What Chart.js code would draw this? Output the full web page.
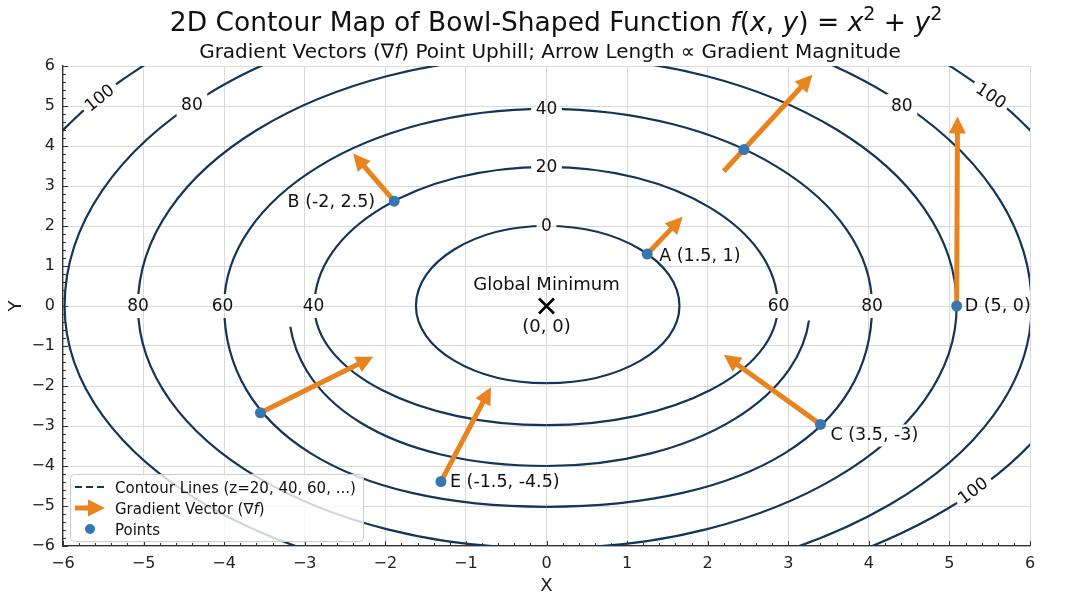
<!DOCTYPE html>
<html>
<head>
<meta charset="utf-8">
<script src="https://cdn.jsdelivr.net/npm/chart.js@4.4.1/dist/chart.umd.min.js"></script>
<style>
  html, body { margin: 0; padding: 0; background: #fff; }
</style>
</head>
<body>
<canvas id="chart" width="1068" height="601"></canvas>
<script>
// contour map: f(x, y) = x^2 + y^2, gradient arrows, labelled points

const FONT = '"DejaVu Sans", sans-serif';
const NAVY = "#12355b";
const ORANGE = "#e8831e";
const BLUE = "#3677b3";
const INK = "#111";

// --- Data ---

const xTickLabels = ["\u22126", "\u22125", "\u22124", "\u22123", "\u22122", "\u22121", "0", "1", "2", "3", "4", "5", "6"];
const yTickLabels = ["\u22126", "\u22125", "\u22124", "\u22123", "\u22122", "\u22121", "0", "1", "2", "3", "4", "5", "6"];

// each contour quarter: where it meets y = 0 (arcX) and x = 0 (arcY)
const arcX = [-1.62, -2.88, -4.0, -5.07, -5.98, -6.97,   // top left
              1.65, 2.87, 4.04, 5.09, 6.02, 6.97,         // top right
              -1.62, -2.88, -3.2, -4.0, -5.07, -5.98,     // bottom left
              1.65, 2.87, 3.27, 4.04, 5.09, 6.02, 6.77];  // bottom right
const arcY = [2.0, 3.48, 4.93, 6.24, 7.45, 8.63,
              2.0, 3.48, 4.93, 6.24, 7.45, 8.63,
              -1.93, -2.98, -4.0, -5.02, -6.06, -7.03,
              -1.93, -2.98, -4.0, -5.02, -6.06, -7.03, -7.48];
// 0.552 = true ellipse, larger = squarer quarter
const arcRound = [0.552, 0.552, 0.552, 0.552, 0.552, 0.552,
                  0.552, 0.552, 0.552, 0.552, 0.552, 0.552,
                  0.552, 0.552, 0.6, 0.62, 0.552, 0.552,
                  0.552, 0.552, 0.56, 0.62, 0.552, 0.552, 0.552];
// open arcs only start below this y
const arcFromY = [null, null, null, null, null, null,
                  null, null, null, null, null, null,
                  null, null, -0.52, null, null, null,
                  null, null, -0.36, null, null, null, null];

const clabelText = ["0", "20", "40", "80", "60", "40", "60", "80", "100", "80", "80", "100", "100"];
const clabelX = [0, 0, 0, -5.07, -4.02, -2.89, 2.88, 4.04, -5.54, -4.40, 4.41, 5.51, 5.30];
const clabelY = [2.0, 3.48, 4.93, 0, 0, 0, 0, 0, 5.21, 5.04, 5.0, 5.26, -4.61];
const clabelAngle = [0, 0, 0, 0, 0, 0, 0, 0, -39, 0, 0, 34, -37];

const pointX = [1.25, -1.89, 2.45, 3.40, 5.09, -1.31, -3.55];
const pointY = [1.30, 2.62, 3.91, -2.96, 0, -4.39, -2.67];
const pointText = ["A (1.5, 1)", "B (-2, 2.5)", "", "C (3.5, -3)", "D (5, 0)", "E (-1.5, -4.5)", ""];

const arrowFromX = [1.25, -1.89, 2.20, 3.40, 5.09, -1.31, -3.55];
const arrowFromY = [1.30, 2.62, 3.37, -2.96, 0, -4.39, -2.67];
const arrowToX = [1.69, -2.40, 3.30, 2.20, 5.10, -0.69, -2.15];
const arrowToY = [2.23, 3.81, 5.78, -1.22, 4.74, -2.03, -1.27];

const minimumX = 0;
const minimumY = 0;

// --- Placement of annotation texts (px offsets from the point) ---

const pointLabelStyle = [
  { dx: 12, dy: 2, align: "left" },
  { dx: -19, dy: 1, align: "right" },
  null,
  { dx: 10, dy: 11, align: "left", knockout: true },
  { dx: 8, dy: 0, align: "left" },
  { dx: 9, dy: 1, align: "left" },
  null,
];

// --- Helpers ---

function toPx(chart, x, y) {
  return [chart.scales.x.getPixelForValue(x), chart.scales.y.getPixelForValue(y)];
}

function richParts(ctx, parts, size) {
  const fonts = { n: `${size}px ${FONT}`, i: `italic ${size}px ${FONT}`, s: `${Math.round(size * 0.7)}px ${FONT}` };
  let w = 0;
  const out = parts.map(([t, s]) => {
    ctx.font = fonts[s];
    const pw = ctx.measureText(t).width;
    w += pw;
    return { t, s, pw, font: fonts[s] };
  });
  return { out, w };
}

function drawRich(ctx, parts, x, baseline, size, align) {
  const { out, w } = richParts(ctx, parts, size);
  let cx = align === "left" ? x : x - w / 2;
  ctx.textAlign = "left";
  ctx.textBaseline = "alphabetic";
  out.forEach(p => {
    ctx.font = p.font;
    ctx.fillText(p.t, cx, p.s === "s" ? baseline - size * 0.42 : baseline);
    cx += p.pw;
  });
}

function boxCorners(cx, cy, w, h, deg) {
  const a = deg * Math.PI / 180, c = Math.cos(a), s = Math.sin(a);
  return [[-w / 2, -h / 2], [w / 2, -h / 2], [w / 2, h / 2], [-w / 2, h / 2]]
    .map(([u, v]) => [cx + u * c - v * s, cy + u * s + v * c]);
}

function drawArrow(ctx, x0, y0, x1, y1) {
  const head = 17, headW = 17, shaft = 5;
  const dx = x1 - x0, dy = y1 - y0, len = Math.hypot(dx, dy);
  const ux = dx / len, uy = dy / len, nx = -uy, ny = ux;
  const bx = x1 - ux * head, by = y1 - uy * head;
  ctx.beginPath();
  ctx.moveTo(x0 + nx * shaft / 2, y0 + ny * shaft / 2);
  ctx.lineTo(bx + nx * shaft / 2, by + ny * shaft / 2);
  ctx.lineTo(bx + nx * headW / 2, by + ny * headW / 2);
  ctx.lineTo(x1, y1);
  ctx.lineTo(bx - nx * headW / 2, by - ny * headW / 2);
  ctx.lineTo(bx - nx * shaft / 2, by - ny * shaft / 2);
  ctx.lineTo(x0 - nx * shaft / 2, y0 - ny * shaft / 2);
  ctx.closePath();
  ctx.fill();
}

// --- Contours ---

function drawContours(chart) {
  const { ctx, chartArea: a } = chart;
  const labelFont = `17px ${FONT}`;
  ctx.save();
  ctx.font = labelFont;

  // clip = plot area minus the boxes of the inline labels
  ctx.beginPath();
  ctx.rect(a.left, a.top, a.right - a.left, a.bottom - a.top);
  clabelText.forEach((t, i) => {
    const [cx, cy] = toPx(chart, clabelX[i], clabelY[i]);
    const w = ctx.measureText(t).width + 9;
    const pts = boxCorners(cx, cy, w, 24, clabelAngle[i]);
    ctx.moveTo(pts[0][0], pts[0][1]);
    pts.slice(1).forEach(p => ctx.lineTo(p[0], p[1]));
    ctx.closePath();
  });
  pointText.forEach((t, i) => {
    const st = pointLabelStyle[i];
    if (!t || !st.knockout) return;
    ctx.font = `17.5px ${FONT}`;
    const [px, py] = toPx(chart, pointX[i], pointY[i]);
    const w = ctx.measureText(t).width;
    ctx.rect(px + st.dx - 2, py + st.dy - 11, w + 4, 22);
  });
  ctx.clip("evenodd");

  ctx.strokeStyle = NAVY;
  ctx.lineWidth = 2.2;
  arcX.forEach((xi, i) => {
    const yi = arcY[i], k = arcRound[i];
    ctx.save();
    if (arcFromY[i] !== null) {
      const yc = chart.scales.y.getPixelForValue(arcFromY[i]);
      ctx.beginPath();
      ctx.rect(a.left, yc, a.right - a.left, a.bottom - yc + 5);
      ctx.clip();
    }
    const p0 = toPx(chart, xi, 0), c1 = toPx(chart, xi, k * yi);
    const c2 = toPx(chart, k * xi, yi), p1 = toPx(chart, 0, yi);
    ctx.beginPath();
    ctx.moveTo(p0[0], p0[1]);
    ctx.bezierCurveTo(c1[0], c1[1], c2[0], c2[1], p1[0], p1[1]);
    ctx.stroke();
    ctx.restore();
  });
  ctx.restore();

  // inline labels
  ctx.save();
  ctx.fillStyle = INK;
  ctx.font = labelFont;
  ctx.textAlign = "center";
  ctx.textBaseline = "middle";
  clabelText.forEach((t, i) => {
    const [cx, cy] = toPx(chart, clabelX[i], clabelY[i]);
    ctx.save();
    ctx.translate(cx, cy + 1);
    ctx.rotate(clabelAngle[i] * Math.PI / 180);
    ctx.fillText(t, 0, 0);
    ctx.restore();
  });
  ctx.restore();
}

function drawArrows(chart) {
  const { ctx } = chart;
  ctx.save();
  ctx.fillStyle = ORANGE;
  arrowFromX.forEach((x0, i) => {
    const [a, b] = toPx(chart, x0, arrowFromY[i]);
    const [c, d] = toPx(chart, arrowToX[i], arrowToY[i]);
    drawArrow(ctx, a, b, c, d);
  });
  ctx.restore();
}

function drawAnnotations(chart) {
  const { ctx } = chart;
  ctx.save();
  ctx.fillStyle = INK;
  ctx.textBaseline = "middle";
  ctx.font = `17.5px ${FONT}`;
  pointText.forEach((t, i) => {
    if (!t) return;
    const st = pointLabelStyle[i];
    const [px, py] = toPx(chart, pointX[i], pointY[i]);
    ctx.textAlign = st.align;
    ctx.fillText(t, px + st.dx, py + st.dy);
  });

  // global minimum
  const [mx, my] = toPx(chart, minimumX, minimumY);
  ctx.strokeStyle = "#000";
  ctx.lineWidth = 2.6;
  ctx.beginPath();
  ctx.moveTo(mx - 7.5, my - 7.5); ctx.lineTo(mx + 7.5, my + 7.5);
  ctx.moveTo(mx + 7.5, my - 7.5); ctx.lineTo(mx - 7.5, my + 7.5);
  ctx.stroke();
  ctx.font = `18px ${FONT}`;
  ctx.textAlign = "center";
  ctx.fillText("Global Minimum", mx, my - 21);
  ctx.fillText("(0, 0)", mx, my + 21);
  ctx.restore();
}

function drawAxisTicks(chart) {
  const { ctx, chartArea: a, scales: { x, y } } = chart;
  ctx.save();
  ctx.strokeStyle = "#333";
  ctx.lineWidth = 1;
  ctx.beginPath();
  for (let i = 0; i <= 60; i++) {
    const v = -6 + i * 0.2;
    const len = i % 5 === 0 ? 5 : 3;
    const xp = Math.round(x.getPixelForValue(v)) + 0.5;
    ctx.moveTo(xp, a.bottom);
    ctx.lineTo(xp, a.bottom - len);
    const yp = Math.round(y.getPixelForValue(v)) + 0.5;
    ctx.moveTo(a.left, yp);
    ctx.lineTo(a.left + len, yp);
  }
  ctx.stroke();
  ctx.restore();
}

function drawTitles(chart) {
  const { ctx } = chart;
  ctx.save();
  ctx.fillStyle = INK;
  drawRich(ctx, [
    ["2D Contour Map of Bowl-Shaped Function ", "n"], ["f", "i"], ["(", "n"], ["x", "i"], [", ", "n"],
    ["y", "i"], [") = ", "n"], ["x", "i"], ["2", "s"], [" + ", "n"], ["y", "i"], ["2", "s"],
  ], 556, 31, 26.5);
  drawRich(ctx, [
    ["Gradient Vectors (\u2207", "n"], ["f", "i"], [") Point Uphill; Arrow Length \u221D Gradient Magnitude", "n"],
  ], 550, 58, 20);
  ctx.restore();
}

function drawLegend(chart) {
  const { ctx, chartArea: a } = chart;
  const left = a.left + 7, top = 474, w = 293, h = 67;
  ctx.save();
  ctx.fillStyle = "rgba(255,255,255,0.8)";
  ctx.strokeStyle = "#cccccc";
  ctx.lineWidth = 1;
  ctx.beginPath();
  ctx.roundRect(left + 0.5, top + 0.5, w, h, 4);
  ctx.fill();
  ctx.stroke();

  const x0 = left + 5, x1 = left + 35, tx = left + 45;
  const rows = [top + 13, top + 34, top + 55];

  ctx.strokeStyle = NAVY;
  ctx.lineWidth = 2.2;
  ctx.setLineDash([7, 4]);
  ctx.beginPath();
  ctx.moveTo(x0, rows[0]); ctx.lineTo(x1, rows[0]);
  ctx.stroke();
  ctx.setLineDash([]);

  ctx.fillStyle = ORANGE;
  drawArrow(ctx, x0, rows[1], x1, rows[1]);

  ctx.fillStyle = BLUE;
  ctx.beginPath();
  ctx.arc((x0 + x1) / 2, rows[2], 5, 0, Math.PI * 2);
  ctx.fill();

  ctx.fillStyle = INK;
  drawRich(ctx, [["Contour Lines (z=20, 40, 60, ...)", "n"]], tx, rows[0] + 5.5, 15, "left");
  drawRich(ctx, [["Gradient Vector (\u2207", "n"], ["f", "i"], [")", "n"]], tx, rows[1] + 5.5, 15, "left");
  drawRich(ctx, [["Points", "n"]], tx, rows[2] + 5.5, 15, "left");
  ctx.restore();
}

const bowlPlugin = {
  id: "bowl",
  beforeDatasetsDraw(chart) {
    drawContours(chart);
    drawArrows(chart);
  },
  afterDatasetsDraw(chart) {
    drawAnnotations(chart);
  },
  afterDraw(chart) {
    drawAxisTicks(chart);
    drawLegend(chart);
    drawTitles(chart);
  },
};

// --- Chart ---

const axisFont = { family: FONT, size: 16 };

new Chart(document.getElementById("chart"), {
  type: "scatter",
  data: {
    datasets: [{
      label: "Points",
      data: pointX.map((x, i) => ({ x, y: pointY[i] })),
      pointRadius: 5.5,
      pointHoverRadius: 5.5,
      backgroundColor: BLUE,
      borderWidth: 0,
    }],
  },
  options: {
    responsive: false,
    animation: false,
    devicePixelRatio: 1,
    layout: { padding: { top: 66, right: 38, bottom: 0, left: 0 } },
    plugins: { legend: { display: false }, tooltip: { enabled: false }, title: { display: false } },
    scales: {
      x: {
        type: "linear",
        min: -6,
        max: 6,
        ticks: {
          stepSize: 1,
          color: "#222",
          font: axisFont,
          padding: 8,
          maxRotation: 0,
          callback: (v, i) => xTickLabels[i],
        },
        grid: { color: "#dadada", lineWidth: 1, drawTicks: false },
        border: { color: "#333", width: 1.3 },
        title: { display: true, text: "X", color: "#222", font: { family: FONT, size: 18 }, padding: { top: 0, bottom: 4 } },
        afterFit(s) { s.height = 55; },
      },
      y: {
        type: "linear",
        min: -6,
        max: 6,
        ticks: {
          stepSize: 1,
          color: "#222",
          font: axisFont,
          padding: 8,
          callback: (v, i) => yTickLabels[i],
        },
        grid: { color: "#dadada", lineWidth: 1, drawTicks: false },
        border: { color: "#333", width: 1.3 },
        title: { display: true, text: "Y", color: "#222", font: { family: FONT, size: 18 }, padding: { top: 6, bottom: 0 } },
        afterFit(s) { s.width = 63; },
      },
    },
  },
  plugins: [bowlPlugin],
});
</script>
</body>
</html>
